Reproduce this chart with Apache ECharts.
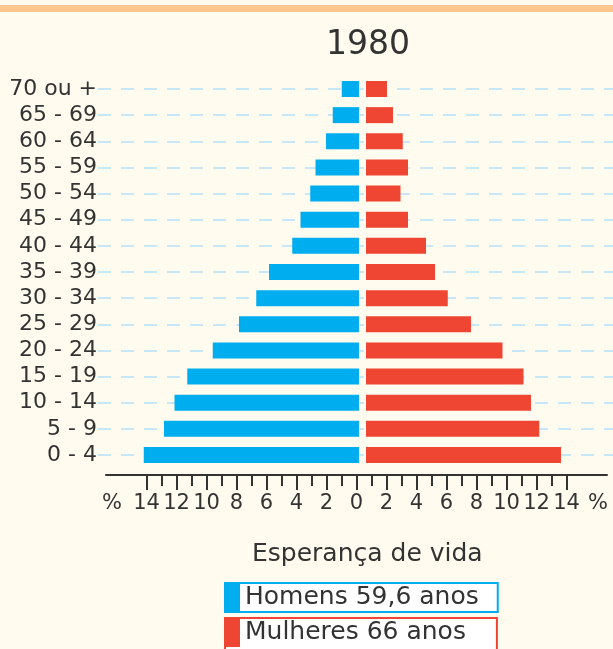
<!DOCTYPE html>
<html>
<head>
<meta charset="utf-8">
<title>1980</title>
<script src="https://cdn.jsdelivr.net/npm/echarts@6.0.0/dist/echarts.min.js"></script>
<style>
  html, body { margin: 0; padding: 0; background: #fffcef; }
  #main { width: 613px; height: 649px; }
</style>
</head>
<body>
<div id="main"></div>
<script>
// faixas etarias, de baixo para cima
var ageGroups = ['0 - 4', '5 - 9', '10 - 14', '15 - 19', '20 - 24', '25 - 29', '30 - 34',
  '35 - 39', '40 - 44', '45 - 49', '50 - 54', '55 - 59', '60 - 64', '65 - 69', '70 ou +'];
var homens = [14.35, 13.0, 12.3, 11.45, 9.75, 8.0, 6.85, 6.0, 4.45, 3.9, 3.25, 2.9, 2.2, 1.75, 1.15];
var mulheres = [13.0, 11.55, 11.0, 10.5, 9.1, 7.0, 5.45, 4.6, 4.0, 2.8, 2.3, 2.8, 2.45, 1.8, 1.4];
var majorTicks = [-14, -12, -10, -8, -6, -4, -2, 0, 2, 4, 6, 8, 10, 12, 14];
var minorTicks = [-13, -11, -9, -7, -5, -3, -1, 1, 3, 5, 7, 9, 11, 13];
var tickLabels = [-16.3].concat(majorTicks, [16.1]);
var nomeHomens = 'Homens 59,6 anos';
var nomeMulheres = 'Mulheres 66 anos';

var FONT = 'DejaVu Sans';
var TXT = '#333333';
var BLUE = '#00adee';
var RED = '#ef4533';

var chart = echarts.init(document.getElementById('main'));

var hiddenCat = function (idx) {
  return {
    type: 'category', gridIndex: idx, data: ageGroups, boundaryGap: false,
    axisLine: { show: false }, axisTick: { show: false }, axisLabel: { show: false },
    splitLine: { show: false }
  };
};

var option = {
  backgroundColor: '#fffcef',
  animation: false,
  graphic: [
    { type: 'rect', shape: { x: 0, y: 0, width: 613, height: 5 }, style: { fill: '#fffaf0' } },
    { type: 'rect', shape: { x: 0, y: 5, width: 613, height: 7 }, style: { fill: '#fcc68e' } }
  ],
  title: [
    {
      text: '1980', left: 321, top: 24,
      textStyle: { fontFamily: FONT, fontSize: 33, fontWeight: 'normal', color: TXT }
    },
    {
      text: 'Esperança de vida', left: 247, top: 537,
      textStyle: { fontFamily: FONT, fontSize: 25, fontWeight: 'normal', color: TXT }
    }
  ],
  legend: [
    {
      data: [nomeHomens], left: 225, top: 583, orient: 'horizontal',
      icon: 'rect', itemWidth: 15, itemHeight: 29, selectedMode: false,
      padding: [0, 19, 0, 0], backgroundColor: '#ffffff', borderColor: BLUE, borderWidth: 2,
      textStyle: { fontFamily: FONT, fontSize: 25, color: TXT }
    },
    {
      data: [nomeMulheres], left: 225, top: 618, orient: 'horizontal',
      icon: 'rect', itemWidth: 15, itemHeight: 29, selectedMode: false,
      padding: [0, 31, 6, 0], backgroundColor: '#ffffff', borderColor: RED, borderWidth: 2,
      textStyle: { fontFamily: FONT, fontSize: 25, color: TXT }
    }
  ],
  grid: [
    { left: 98, right: 0, top: 89, bottom: 194 },   // linhas e rotulos
    { left: 119, right: 254, top: 89, bottom: 194 }, // homens
    { left: 366, right: 7, top: 89, bottom: 194 },   // mulheres
    { left: 106, right: 6, top: 465, bottom: 174 }   // eixo de %
  ],
  xAxis: [
    { type: 'value', gridIndex: 0, show: false, min: 0, max: 1 },
    { type: 'value', gridIndex: 1, show: false, min: 0, max: 16, inverse: true },
    { type: 'value', gridIndex: 2, show: false, min: 0, max: 16 },
    {
      type: 'value', gridIndex: 3, position: 'bottom', min: -16.7, max: 16.7,
      axisLine: { show: true, lineStyle: { color: '#333', width: 2 } },
      axisTick: { show: true, customValues: majorTicks, length: 15, lineStyle: { color: '#333', width: 2 } },
      axisLabel: {
        show: true, customValues: tickLabels, margin: 18,
        fontFamily: FONT, fontSize: 21, color: TXT,
        formatter: function (v) { return Math.abs(v) > 15 ? '%' : String(Math.abs(v)); }
      },
      splitLine: { show: false }
    },
    {
      type: 'value', gridIndex: 3, position: 'bottom', offset: 0, min: -16.7, max: 16.7,
      axisLine: { show: false },
      axisTick: { show: true, customValues: minorTicks, length: 11, lineStyle: { color: '#333', width: 2 } },
      axisLabel: { show: false },
      splitLine: { show: false }
    }
  ],
  yAxis: [
    {
      type: 'category', gridIndex: 0, data: ageGroups, boundaryGap: false,
      axisLine: { show: false }, axisTick: { show: false },
      axisLabel: { margin: 1, fontFamily: FONT, fontSize: 22, color: TXT, interval: 0 },
      splitLine: { show: true, interval: 0, lineStyle: { color: '#c6e7f8', width: 2, type: [13, 10] } }
    },
    hiddenCat(1),
    hiddenCat(2),
    { type: 'value', gridIndex: 3, show: false }
  ],
  series: [
    {
      name: nomeHomens, type: 'bar', xAxisIndex: 1, yAxisIndex: 1,
      data: homens, barWidth: 16, itemStyle: { color: BLUE }
    },
    {
      name: nomeMulheres, type: 'bar', xAxisIndex: 2, yAxisIndex: 2,
      data: mulheres, barWidth: 16, itemStyle: { color: RED }
    }
  ]
};

chart.setOption(option);
</script>
</body>
</html>
